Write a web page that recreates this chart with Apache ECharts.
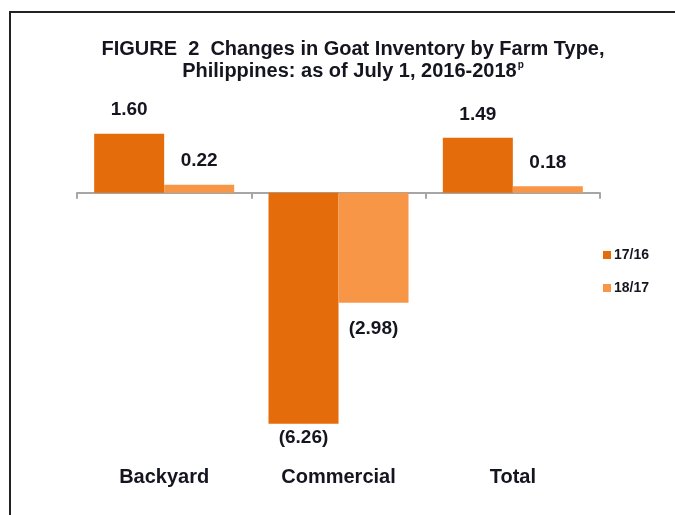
<!DOCTYPE html>
<html>
<head>
<meta charset="utf-8">
<script src="https://cdn.jsdelivr.net/npm/echarts@6/dist/echarts.min.js"></script>
<style>
  html, body { margin: 0; padding: 0; background: #fff; }
  #chart { width: 675px; height: 515px; }
</style>
</head>
<body>
<div id="chart"></div>
<script>
var farmTypes = ['Backyard', 'Commercial', 'Total'];
var seriesNames = ['17/16', '18/17'];
var change1716 = [1.60, -6.26, 1.49];
var change1817 = [0.22, -2.98, 0.18];

var chart = echarts.init(document.getElementById('chart'), null, { renderer: 'canvas' });

function fmt(p) {
  var v = p.value;
  return v < 0 ? '(' + Math.abs(v).toFixed(2) + ')' : v.toFixed(2);
}

// negative values go under the bar, the deep one hugs it closer
function toData(arr) {
  return arr.map(function (v) {
    var item = { value: v, label: { position: v < 0 ? 'bottom' : 'top' } };
    if (v < 0) {
      item.label.distance = v < -5 ? 5 : 17;
    }
    return item;
  });
}

var labelStyle = {
  show: true,
  formatter: fmt,
  fontFamily: 'Liberation Sans',
  fontWeight: 'bold',
  fontSize: 19,
  color: '#151520',
  distance: 14
};

var option = {
  backgroundColor: '#fff',
  animation: false,
  textStyle: { fontFamily: 'Liberation Sans' },
  title: {
    text: 'FIGURE  2  Changes in Goat Inventory by Farm Type,\nPhilippines: as of July 1, 2016-2018{p|p}',
    left: 348,
    top: 33,
    textAlign: 'center',
    textStyle: {
      fontFamily: 'Liberation Sans',
      fontWeight: 'bold',
      fontSize: 20,
      lineHeight: 22,
      color: '#151520',
      rich: {
        p: {
          fontFamily: 'Liberation Sans',
          fontWeight: 'bold',
          fontSize: 10,
          color: '#151520',
          verticalAlign: 'top',
          lineHeight: 22,
          padding: [0, 0, 4, 1]
        }
      }
    }
  },
  legend: {
    orient: 'vertical',
    left: 598,
    top: 243,
    itemWidth: 8,
    itemHeight: 8,
    itemGap: 19,
    icon: 'rect',
    data: seriesNames,
    textStyle: {
      fontFamily: 'Liberation Sans',
      fontWeight: 'bold',
      fontSize: 14,
      color: '#151520',
      padding: [0, 0, 0, -2]
    }
  },
  grid: {
    left: 77,
    width: 523,
    top: 119,
    height: 332
  },
  xAxis: [
    {
      type: 'category',
      data: farmTypes,
      position: 'bottom',
      axisLine: { onZero: true, lineStyle: { color: '#a6a6a6', width: 2 } },
      axisTick: { show: true, length: 6, interval: 0, lineStyle: { color: '#a6a6a6', width: 2 } },
      axisLabel: { show: false }
    },
    {
      type: 'category',
      data: farmTypes,
      position: 'bottom',
      axisLine: { show: false, onZero: false },
      axisTick: { show: false },
      axisLabel: {
        show: true,
        margin: 16,
        fontFamily: 'Liberation Sans',
        fontWeight: 'bold',
        fontSize: 20,
        color: '#151520'
      }
    }
  ],
  yAxis: {
    type: 'value',
    min: -7,
    max: 2,
    show: false,
    splitLine: { show: false }
  },
  series: [
    {
      name: seriesNames[0],
      type: 'bar',
      xAxisIndex: 0,
      barWidth: 70,
      barGap: '0%',
      itemStyle: { color: '#E46C0A' },
      label: Object.assign({}, labelStyle),
      data: toData(change1716)
    },
    {
      name: seriesNames[1],
      type: 'bar',
      xAxisIndex: 0,
      barWidth: 70,
      barGap: '0%',
      itemStyle: { color: '#F79646' },
      label: Object.assign({}, labelStyle),
      data: toData(change1817)
    }
  ],
  graphic: [
    {
      type: 'line',
      shape: { x1: 9, y1: 12, x2: 675, y2: 12 },
      style: { stroke: '#222', lineWidth: 2 }
    },
    {
      type: 'line',
      shape: { x1: 10, y1: 11, x2: 10, y2: 515 },
      style: { stroke: '#222', lineWidth: 2 }
    }
  ]
};

chart.setOption(option);
</script>
</body>
</html>
